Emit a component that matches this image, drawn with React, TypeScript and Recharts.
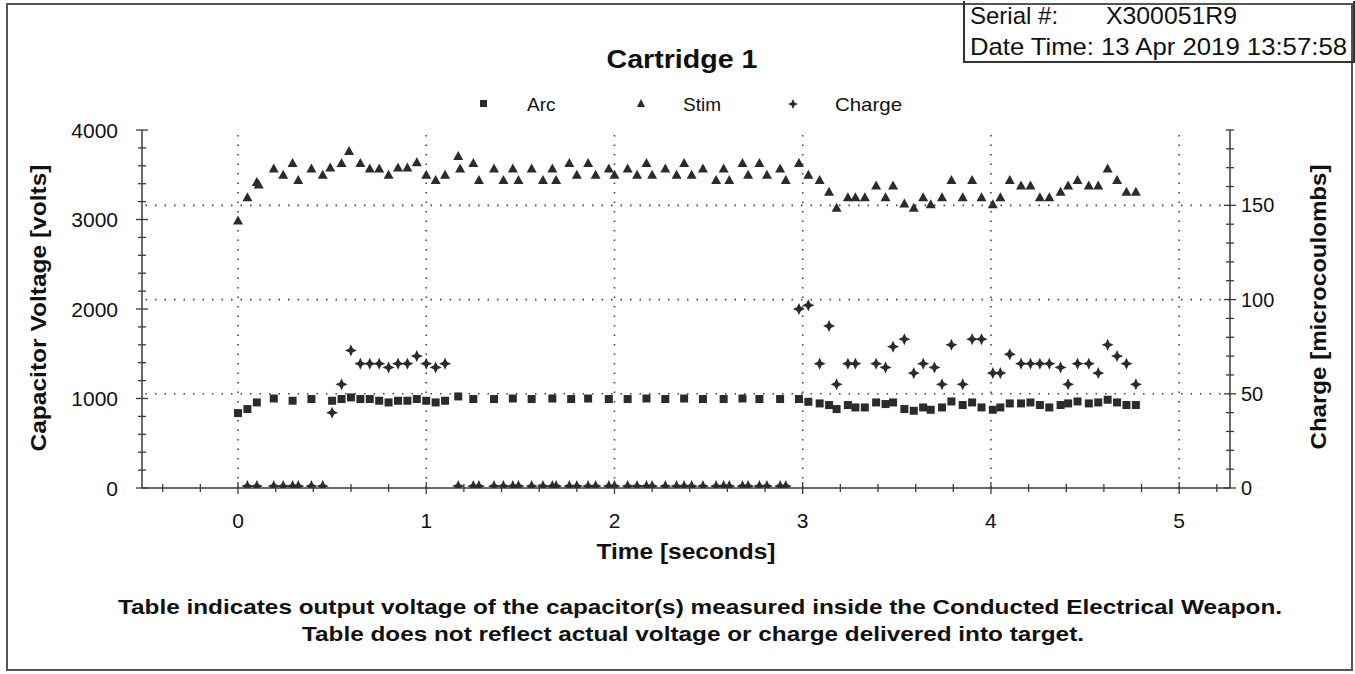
import React from 'react';
import {
  ScatterChart,
  Scatter,
  XAxis,
  YAxis,
  ReferenceLine,
} from 'recharts';

// [seconds, volts]
const arcPoints: [number, number][] = [
  [0.0, 837], [0.05, 882], [0.1, 956], [0.19, 1000], [0.29, 975], [0.39, 994],
  [0.5, 975], [0.55, 994], [0.6, 1012], [0.65, 994], [0.7, 994], [0.75, 975],
  [0.8, 956], [0.85, 975], [0.9, 975], [0.95, 994], [1.0, 975], [1.05, 956],
  [1.1, 975], [1.17, 1023], [1.25, 994], [1.36, 994], [1.46, 1000], [1.56, 994],
  [1.67, 1000], [1.77, 994], [1.86, 1000], [1.97, 994], [2.07, 994], [2.17, 1000],
  [2.27, 994], [2.37, 1000], [2.47, 994], [2.58, 994], [2.68, 1000], [2.77, 994],
  [2.88, 994], [2.98, 994], [3.03, 963], [3.09, 945], [3.14, 927], [3.18, 882],
  [3.24, 927], [3.28, 900], [3.33, 900], [3.39, 956], [3.44, 938], [3.48, 956],
  [3.54, 882], [3.59, 863], [3.64, 900], [3.68, 874], [3.74, 900], [3.79, 967],
  [3.85, 927], [3.9, 956], [3.95, 900], [4.01, 874], [4.05, 900], [4.1, 945],
  [4.16, 945], [4.21, 956], [4.26, 927], [4.31, 900], [4.37, 927], [4.41, 945],
  [4.46, 967], [4.52, 945], [4.57, 956], [4.62, 986], [4.67, 956], [4.72, 927],
  [4.77, 927],
];

// [seconds, volts]
const stimPoints: [number, number][] = [
  [0.0, 2990], [0.05, 3250], [0.1, 3420], [0.11, 3390], [0.19, 3570], [0.24, 3500],
  [0.29, 3630], [0.32, 3440], [0.39, 3570], [0.45, 3500], [0.49, 3580], [0.55, 3630],
  [0.59, 3765], [0.65, 3630], [0.7, 3570], [0.75, 3570], [0.8, 3500], [0.85, 3580],
  [0.9, 3580], [0.95, 3640], [1.0, 3500], [1.05, 3440], [1.1, 3500], [1.17, 3710],
  [1.18, 3570], [1.25, 3630], [1.28, 3440], [1.36, 3570], [1.41, 3440], [1.46, 3570],
  [1.49, 3440], [1.56, 3570], [1.62, 3440], [1.67, 3570], [1.69, 3440], [1.76, 3630],
  [1.8, 3500], [1.86, 3630], [1.9, 3500], [1.97, 3570], [2.0, 3500], [2.07, 3570],
  [2.12, 3500], [2.17, 3630], [2.2, 3500], [2.27, 3570], [2.33, 3500], [2.37, 3630],
  [2.41, 3500], [2.47, 3570], [2.54, 3440], [2.58, 3570], [2.61, 3440], [2.68, 3630],
  [2.71, 3500], [2.77, 3630], [2.81, 3500], [2.88, 3570], [2.91, 3440], [2.98, 3630],
  [3.03, 3500], [3.09, 3440], [3.14, 3310], [3.18, 3130], [3.24, 3250], [3.28, 3250],
  [3.33, 3250], [3.39, 3380], [3.44, 3250], [3.48, 3380], [3.54, 3180], [3.59, 3130],
  [3.64, 3250], [3.68, 3170], [3.74, 3250], [3.79, 3440], [3.85, 3250], [3.9, 3440],
  [3.95, 3250], [4.01, 3170], [4.05, 3250], [4.1, 3440], [4.16, 3380], [4.21, 3380],
  [4.26, 3250], [4.31, 3250], [4.37, 3310], [4.41, 3380], [4.46, 3440], [4.52, 3380],
  [4.57, 3380], [4.62, 3570], [4.67, 3440], [4.72, 3310], [4.77, 3310],
];

// [seconds, microcoulombs]
const chargePoints: [number, number][] = [
  [0.05, 1], [0.1, 1], [0.19, 1], [0.24, 1], [0.29, 1], [0.32, 1], [0.39, 1], [0.45, 1],
  [0.5, 40], [0.55, 55], [0.6, 73], [0.65, 66], [0.7, 66], [0.75, 66], [0.8, 64],
  [0.85, 66], [0.9, 66], [0.95, 70], [1.0, 66], [1.05, 64], [1.1, 66],
  [1.17, 1], [1.25, 1], [1.28, 1], [1.36, 1], [1.41, 1], [1.46, 1], [1.49, 1], [1.56, 1],
  [1.62, 1], [1.67, 1], [1.69, 1], [1.76, 1], [1.8, 1], [1.86, 1], [1.9, 1], [1.97, 1],
  [2.0, 1], [2.07, 1], [2.12, 1], [2.17, 1], [2.2, 1], [2.27, 1], [2.33, 1], [2.37, 1],
  [2.41, 1], [2.47, 1], [2.54, 1], [2.58, 1], [2.61, 1], [2.68, 1], [2.71, 1], [2.77, 1],
  [2.81, 1], [2.88, 1], [2.91, 1],
  [2.98, 95], [3.03, 97], [3.09, 66], [3.14, 86], [3.18, 55], [3.24, 66], [3.28, 66],
  [3.39, 66], [3.44, 64], [3.48, 75], [3.54, 79], [3.59, 61], [3.64, 66], [3.7, 64],
  [3.74, 55], [3.79, 76], [3.85, 55], [3.9, 79], [3.95, 79], [4.01, 61], [4.05, 61],
  [4.1, 71], [4.16, 66], [4.21, 66], [4.26, 66], [4.31, 66], [4.37, 64], [4.41, 55],
  [4.46, 66], [4.52, 66], [4.57, 61], [4.62, 76], [4.67, 70], [4.72, 66], [4.77, 55],
];

const timeLabels = [0, 1, 2, 3, 4, 5];
const voltLabels = [0, 1000, 2000, 3000, 4000];
const chargeLabels = [0, 50, 100, 150];
const chargeGrid = [50, 100, 150];

// minor ticks: 0.2 s, 200 V, 10 uC
const timeTicks = Array.from({ length: 29 }, (_, i) => (i * 2 - 4) / 10);
const voltTicks = Array.from({ length: 21 }, (_, i) => i * 200);
const chargeTicks = Array.from({ length: 20 }, (_, i) => i * 10);

const INK = '#2b2b2b';
const AXIS = '#3a3a3a';
const FONT = '"Liberation Sans", Arial, sans-serif';

const toData = (pts: [number, number][]) => pts.map(([t, v]) => ({ t, v }));

const SquareMark = (p: any) => (
  <rect x={p.cx - 4} y={p.cy - 4} width={8} height={8} fill={INK} />
);

const TriangleMark = (p: any) => (
  <polygon
    points={`${p.cx},${p.cy - 5} ${p.cx + 5},${p.cy + 4} ${p.cx - 5},${p.cy + 4}`}
    fill={INK}
  />
);

const starPath = (cx: number, cy: number, r: number) => {
  const k = r * 0.32;
  return `${cx},${cy - r} ${cx + k},${cy - k} ${cx + r},${cy} ${cx + k},${cy + k} ${cx},${cy + r} ${cx - k},${cy + k} ${cx - r},${cy} ${cx - k},${cy - k}`;
};

const StarMark = (p: any) => <polygon points={starPath(p.cx, p.cy, 6)} fill={INK} />;

const TimeTick = (props: any) => {
  const { x, y, payload } = props;
  const major = timeLabels.includes(payload.value);
  const s = major ? 6 : 4;
  return (
    <g>
      <line x1={x} x2={x} y1={y - s} y2={y + s} stroke={AXIS} strokeWidth={1.3} />
      {major && (
        <text x={x} y={y + 40} textAnchor="middle" fontSize={21} fill="#111" fontFamily={FONT}>
          {payload.value}
        </text>
      )}
    </g>
  );
};

const TopTick = (props: any) => {
  const { x, y } = props;
  return <line x1={x} x2={x} y1={y - 3} y2={y + 3} stroke={AXIS} strokeWidth={1.2} />;
};

const VoltTick = (props: any) => {
  const { x, y, payload } = props;
  const major = voltLabels.includes(payload.value);
  const s = major ? 6 : 4;
  return (
    <g>
      <line x1={x - s} x2={x + s} y1={y} y2={y} stroke={AXIS} strokeWidth={1.3} />
      {major && (
        <text x={x - 24} y={y + 7.5} textAnchor="end" fontSize={21} fill="#111" fontFamily={FONT}>
          {payload.value}
        </text>
      )}
    </g>
  );
};

const ChargeTick = (props: any) => {
  const { x, y, payload } = props;
  const major = chargeLabels.includes(payload.value);
  const s = major ? 6 : 4;
  return (
    <g>
      <line x1={x - s} x2={x + s} y1={y} y2={y} stroke={AXIS} strokeWidth={1.3} />
      {major && (
        <text x={x + 11} y={y + 7} textAnchor="start" fontSize={20} fill="#111" fontFamily={FONT}>
          {payload.value}
        </text>
      )}
    </g>
  );
};

export default function App() {
  return (
    <div
      style={{
        position: 'absolute',
        left: 0,
        top: 0,
        width: 1355,
        height: 674,
        background: '#fff',
        fontFamily: FONT,
        overflow: 'hidden',
      }}
    >
      {/* page frame */}
      <div
        style={{
          position: 'absolute',
          left: 6,
          top: 3,
          width: 1343,
          height: 664,
          border: '2px solid #555',
        }}
      />
      {/* serial box */}
      <div
        style={{
          position: 'absolute',
          left: 963,
          top: 1,
          width: 388,
          height: 60,
          borderLeft: '2px solid #333',
          borderBottom: '2px solid #333',
          borderRight: '2px solid #333',
        }}
      />

      <ScatterChart
        width={1355}
        height={674}
        margin={{ top: 130, right: 0, bottom: 126, left: 0 }}
        style={{ position: 'absolute', left: 0, top: 0 }}
      >
        <XAxis
          xAxisId="main"
          dataKey="t"
          type="number"
          domain={[-0.51, 5.27]}
          allowDataOverflow
          ticks={timeTicks}
          interval={0}
          tick={<TimeTick />}
          tickLine={false}
          tickSize={0}
          tickMargin={0}
          height={60}
          axisLine={{ stroke: AXIS, strokeWidth: 1.5 }}
        />
        <XAxis
          xAxisId="top"
          orientation="top"
          dataKey="t"
          type="number"
          domain={[-0.51, 5.27]}
          allowDataOverflow
          ticks={timeTicks}
          interval={0}
          tick={<TopTick />}
          tickLine={false}
          tickSize={0}
          tickMargin={0}
          height={0}
          axisLine={{ stroke: AXIS, strokeWidth: 1.5 }}
        />
        <YAxis
          yAxisId="left"
          dataKey="v"
          type="number"
          domain={[0, 4000]}
          allowDataOverflow
          ticks={voltTicks}
          interval={0}
          tick={<VoltTick />}
          tickLine={false}
          tickSize={0}
          tickMargin={0}
          width={142}
          axisLine={{ stroke: AXIS, strokeWidth: 1.5 }}
        />
        <YAxis
          yAxisId="right"
          orientation="right"
          dataKey="v"
          type="number"
          domain={[0, 190]}
          allowDataOverflow
          ticks={chargeTicks}
          interval={0}
          tick={<ChargeTick />}
          tickLine={false}
          tickSize={0}
          tickMargin={0}
          width={125}
          axisLine={{ stroke: AXIS, strokeWidth: 1.5 }}
        />

        {timeLabels.map((t) => (
          <ReferenceLine
            key={`vx${t}`}
            x={t}
            xAxisId="main"
            yAxisId="left"
            stroke="#444"
            strokeWidth={1.6}
            strokeDasharray="1.5 8"
          />
        ))}
        {chargeGrid.map((c) => (
          <ReferenceLine
            key={`hy${c}`}
            y={c}
            xAxisId="main"
            yAxisId="right"
            stroke="#444"
            strokeWidth={1.6}
            strokeDasharray="1.5 8"
          />
        ))}

        <Scatter
          name="Arc"
          data={toData(arcPoints)}
          xAxisId="main"
          yAxisId="left"
          shape={SquareMark}
          isAnimationActive={false}
        />
        <Scatter
          name="Stim"
          data={toData(stimPoints)}
          xAxisId="main"
          yAxisId="left"
          shape={TriangleMark}
          isAnimationActive={false}
        />
        <Scatter
          name="Charge"
          data={toData(chargePoints)}
          xAxisId="main"
          yAxisId="right"
          shape={StarMark}
          isAnimationActive={false}
        />
      </ScatterChart>

      <svg
        width={1355}
        height={674}
        style={{ position: 'absolute', left: 0, top: 0, pointerEvents: 'none' }}
        fontFamily={FONT}
      >
        <text x={970} y={24} fontSize={24} fill="#111">Serial #:</text>
        <text x={1106} y={24} fontSize={24} fill="#111" textLength={131} lengthAdjust="spacingAndGlyphs">X300051R9</text>
        <text x={970} y={55} fontSize={24} fill="#111" textLength={124} lengthAdjust="spacingAndGlyphs">Date Time:</text>
        <text x={1101} y={55} fontSize={24} fill="#111" textLength={246} lengthAdjust="spacingAndGlyphs">13 Apr 2019 13:57:58</text>

        <text x={682} y={68} fontSize={26} fontWeight="bold" textAnchor="middle" fill="#111" textLength={151} lengthAdjust="spacingAndGlyphs">
          Cartridge 1
        </text>

        <rect x={480} y={100} width={7} height={7} fill={INK} />
        <text x={527} y={111} fontSize={19} fill="#111">Arc</text>
        <polygon points={`641,99 645,107 637,107`} fill={INK} />
        <text x={683} y={111} fontSize={19} fill="#111">Stim</text>
        <polygon points={starPath(793, 104, 5)} fill={INK} />
        <text x={835} y={111} fontSize={19} fill="#111" textLength={67} lengthAdjust="spacingAndGlyphs">Charge</text>

        <text
          transform="translate(46,308) rotate(-90)"
          fontSize={22}
          fontWeight="bold"
          textAnchor="middle"
          fill="#111"
          textLength={287}
          lengthAdjust="spacingAndGlyphs"
        >
          Capacitor Voltage [volts]
        </text>
        <text
          transform="translate(1326,307) rotate(-90)"
          fontSize={22}
          fontWeight="bold"
          textAnchor="middle"
          fill="#111"
          textLength={285}
          lengthAdjust="spacingAndGlyphs"
        >
          Charge [microcoulombs]
        </text>

        <text x={686} y={559} fontSize={22} fontWeight="bold" textAnchor="middle" fill="#111" textLength={179} lengthAdjust="spacingAndGlyphs">
          Time [seconds]
        </text>
        <text x={700} y={614} fontSize={21} fontWeight="bold" textAnchor="middle" fill="#111" textLength={1164} lengthAdjust="spacingAndGlyphs">
          Table indicates output voltage of the capacitor(s) measured inside the Conducted Electrical Weapon.
        </text>
        <text x={693} y={641} fontSize={21} fontWeight="bold" textAnchor="middle" fill="#111" textLength={782} lengthAdjust="spacingAndGlyphs">
          Table does not reflect actual voltage or charge delivered into target.
        </text>
      </svg>
    </div>
  );
}
